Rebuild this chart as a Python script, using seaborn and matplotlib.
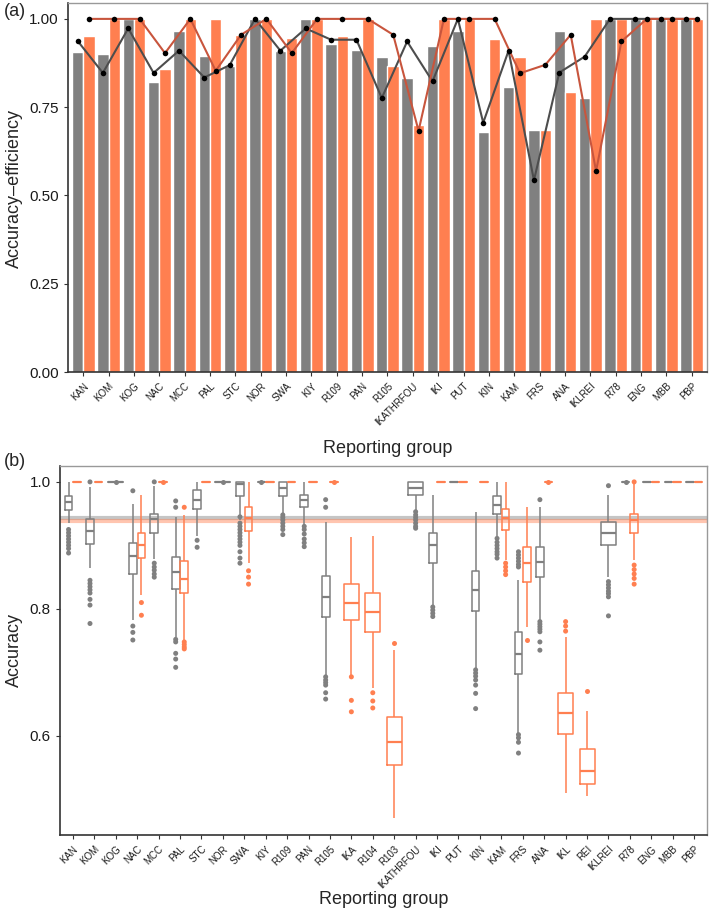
import numpy as np
import pandas as pd
import matplotlib
matplotlib.use("Agg")
import matplotlib.pyplot as plt
import seaborn as sns

GRAY = "#808080"
CORAL = "#FF7F50"
LINE_DARK = "#4D4D4D"
LINE_RED = "#C8553D"

METHODS = ["set1", "set2"]

# ---- panel (a): accuracy-efficiency bars + point lines ----
groups_a = ["KAN", "KOM", "KOG", "NAC", "MCC", "PAL", "STC", "NOR", "SWA", "KIY",
            "R109", "PAN", "R105", "IKATHRFOU", "IKI", "PUT", "KIN", "KAM", "FRS",
            "ANA", "IKLREI", "R78", "ENG", "MBB", "PBP"]
bar_set1 = [0.905, 0.900, 1.000, 0.820, 0.967, 0.895, 0.868, 1.000, 0.908, 1.000,
            0.930, 0.912, 0.891, 0.834, 0.922, 0.965, 0.681, 0.808, 0.686, 0.967,
            0.776, 1.000, 1.000, 1.000, 1.000]
bar_set2 = [0.952, 1.000, 1.000, 0.857, 1.000, 1.000, 0.953, 1.000, 0.947, 1.000,
            0.952, 1.000, 0.866, 0.699, 1.000, 1.000, 0.943, 0.891, 0.686, 0.794,
            1.000, 1.000, 1.000, 1.000, 1.000]
pt_set1 = [0.938, 0.847, 0.973, 0.847, 0.910, 0.834, 0.869, 1.000, 0.910, 0.973,
           0.941, 0.941, 0.776, 0.936, 0.823, 1.000, 0.706, 0.910, 0.543, 0.848,
           0.893, 1.000, 1.000, 1.000, 1.000]
pt_set2 = [1.000, 1.000, 1.000, 0.903, 1.000, 0.853, 0.955, 1.000, 0.903, 1.000,
           1.000, 1.000, 0.955, 0.683, 1.000, 1.000, 1.000, 0.846, 0.870, 0.955,
           0.569, 0.936, 1.000, 1.000, 1.000]

# ---- panel (b): accuracy box summaries (whisker lo, q1, median, q3, whisker hi) ----
groups_b = ["KAN", "KOM", "KOG", "NAC", "MCC", "PAL", "STC", "NOR", "SWA", "KIY",
            "R109", "PAN", "R105", "IKA", "R104", "R103", "IKATHRFOU", "IKI", "PUT",
            "KIN", "KAM", "FRS", "ANA", "IKL", "REI", "IKLREI", "R78", "ENG", "MBB", "PBP"]
box_group = ["KAN", "KAN", "KOM", "KOM", "KOG", "NAC", "NAC", "MCC", "MCC", "PAL",
             "PAL", "STC", "STC", "NOR", "SWA", "SWA", "KIY", "KIY", "R109", "R109",
             "PAN", "PAN", "R105", "R105", "IKA", "R104", "R103", "IKATHRFOU", "IKI", "IKI",
             "PUT", "PUT", "KIN", "KIN", "KAM", "KAM", "FRS", "FRS", "ANA", "ANA",
             "IKL", "REI", "IKLREI", "R78", "R78", "ENG", "ENG", "MBB", "MBB", "PBP", "PBP"]
box_method = ["set1", "set2", "set1", "set2", "set1", "set1", "set2", "set1", "set2", "set1",
              "set2", "set1", "set2", "set1", "set1", "set2", "set1", "set2", "set1", "set2",
              "set1", "set2", "set1", "set2", "set2", "set2", "set2", "set1", "set1", "set2",
              "set1", "set2", "set1", "set2", "set1", "set2", "set1", "set2", "set1", "set2",
              "set2", "set2", "set1", "set1", "set2", "set1", "set2", "set1", "set2", "set1", "set2"]
box_lo = [0.935, 1.0, 0.865, 1.0, 1.0, 0.783, 0.822, 0.878, 1.0, 0.756,
          0.751, 0.914, 1.0, 1.0, 0.940, 0.872, 1.0, 1.0, 0.951, 1.0,
          0.932, 1.0, 0.696, 1.0, 0.696, 0.675, 0.471, 0.956, 0.804, 1.0,
          1.0, 1.0, 0.707, 1.0, 0.914, 0.877, 0.604, 0.772, 0.783, 1.0,
          0.510, 0.505, 0.850, 1.0, 0.877, 1.0, 1.0, 1.0, 1.0, 1.0, 1.0]
box_q1 = [0.956, 1.0, 0.902, 1.0, 1.0, 0.855, 0.880, 0.919, 1.0, 0.831,
          0.825, 0.957, 1.0, 1.0, 0.978, 0.923, 1.0, 1.0, 0.978, 1.0,
          0.960, 1.0, 0.788, 1.0, 0.782, 0.763, 0.554, 0.980, 0.872, 1.0,
          1.0, 1.0, 0.797, 1.0, 0.950, 0.924, 0.697, 0.842, 0.851, 1.0,
          0.603, 0.525, 0.900, 1.0, 0.920, 1.0, 1.0, 1.0, 1.0, 1.0, 1.0]
box_med = [0.968, 1.0, 0.923, 1.0, 1.0, 0.884, 0.901, 0.941, 1.0, 0.858,
           0.847, 0.971, 1.0, 1.0, 0.996, 0.943, 1.0, 1.0, 0.990, 1.0,
           0.972, 1.0, 0.819, 1.0, 0.810, 0.795, 0.591, 0.990, 0.900, 1.0,
           1.0, 1.0, 0.830, 1.0, 0.964, 0.943, 0.729, 0.872, 0.874, 1.0,
           0.636, 0.545, 0.919, 1.0, 0.940, 1.0, 1.0, 1.0, 1.0, 1.0, 1.0]
box_q3 = [0.978, 1.0, 0.941, 1.0, 1.0, 0.904, 0.919, 0.950, 1.0, 0.881,
          0.876, 0.987, 1.0, 1.0, 1.0, 0.960, 1.0, 1.0, 1.0, 1.0,
          0.980, 1.0, 0.852, 1.0, 0.839, 0.825, 0.630, 1.0, 0.919, 1.0,
          1.0, 1.0, 0.860, 1.0, 0.977, 0.957, 0.763, 0.898, 0.898, 1.0,
          0.667, 0.580, 0.937, 1.0, 0.949, 1.0, 1.0, 1.0, 1.0, 1.0, 1.0]
box_hi = [1.0, 1.0, 0.992, 1.0, 1.0, 0.965, 0.980, 0.993, 1.0, 0.945,
          0.948, 1.0, 1.0, 1.0, 1.0, 1.0, 1.0, 1.0, 1.0, 1.0,
          1.0, 1.0, 0.937, 1.0, 0.913, 0.914, 0.735, 1.0, 0.980, 1.0,
          1.0, 1.0, 0.952, 1.0, 1.0, 1.0, 0.845, 0.961, 0.961, 1.0,
          0.756, 0.639, 0.980, 1.0, 1.0, 1.0, 1.0, 1.0, 1.0, 1.0, 1.0]

# outlying points per box
out_group = ["KAN", "KOM", "KOG", "NAC", "NAC", "MCC", "MCC", "PAL", "PAL", "STC",
             "NOR", "SWA", "SWA", "KIY", "R109", "PAN", "R105", "R105", "IKA", "R104",
             "R103", "IKATHRFOU", "IKI", "KIN", "KAM", "KAM", "FRS", "FRS", "ANA", "ANA",
             "IKL", "REI", "IKLREI", "R78", "R78"]
out_method = ["set1", "set1", "set1", "set1", "set2", "set1", "set2", "set1", "set2", "set1",
              "set1", "set1", "set2", "set1", "set1", "set1", "set1", "set2", "set2", "set2",
              "set2", "set1", "set1", "set1", "set1", "set2", "set1", "set2", "set1", "set2",
              "set2", "set2", "set1", "set1", "set2"]
out_values = [
    [0.925, 0.920, 0.915, 0.910, 0.905, 0.900, 0.895, 0.888],
    [1.0, 0.845, 0.840, 0.835, 0.830, 0.825, 0.815, 0.806, 0.777],
    [1.0],
    [0.986, 0.773, 0.763, 0.751],
    [0.810, 0.790],
    [1.0, 0.872, 0.866, 0.861, 0.855, 0.850],
    [1.0],
    [0.970, 0.960, 0.752, 0.748, 0.730, 0.721, 0.708],
    [0.960, 0.748, 0.744, 0.740, 0.737],
    [0.908, 0.897],
    [1.0],
    [0.945, 0.935, 0.930, 0.925, 0.920, 0.915, 0.910, 0.905, 0.900, 0.890, 0.880, 0.872],
    [0.860, 0.850, 0.839],
    [1.0],
    [0.948, 0.944, 0.940, 0.935, 0.930, 0.925, 0.917],
    [0.930, 0.925, 0.918, 0.910, 0.904, 0.898],
    [0.972, 0.960, 0.693, 0.688, 0.684, 0.680, 0.668, 0.658],
    [1.0],
    [0.693, 0.656, 0.638],
    [0.668, 0.655, 0.644],
    [0.747],
    [0.953, 0.948, 0.944, 0.940, 0.935, 0.930, 0.927],
    [0.803, 0.798, 0.793, 0.788],
    [0.704, 0.699, 0.694, 0.688, 0.680, 0.667, 0.643],
    [0.911, 0.905, 0.900, 0.895, 0.890, 0.886, 0.880],
    [0.872, 0.866, 0.860, 0.854],
    [0.890, 0.885, 0.880, 0.875, 0.870, 0.866, 0.602, 0.597, 0.590, 0.573],
    [0.751],
    [0.972, 0.780, 0.776, 0.772, 0.768, 0.764, 0.748, 0.735],
    [1.0],
    [0.780, 0.773, 0.765],
    [0.671],
    [0.994, 0.843, 0.838, 0.833, 0.828, 0.824, 0.819, 0.789],
    [1.0],
    [1.0, 0.869, 0.862, 0.855, 0.848, 0.839],
]

# overall mean accuracy reference lines
ref_set1 = 0.943
ref_set2 = 0.939


def style_axes(ax):
    for side in ("left", "bottom"):
        ax.spines[side].set_color("#333333")
        ax.spines[side].set_linewidth(1.2)
    for side in ("top", "right"):
        ax.spines[side].set_visible(True)
        ax.spines[side].set_color("#999999")
        ax.spines[side].set_linewidth(1.0)
    ax.tick_params(axis="both", length=3, width=0.8, color="#333333", labelcolor="#1a1a1a")
    ax.tick_params(axis="y", labelsize=11)
    ax.tick_params(axis="x", labelsize=7)
    for lab in ax.get_xticklabels():
        lab.set_rotation(45)
        lab.set_ha("right")
        lab.set_rotation_mode("anchor")
    ax.set_xlabel("")
    ax.set_ylabel("")


sns.set_style("ticks")
plt.rcParams["font.family"] = ["Liberation Sans", "DejaVu Sans"]

fig = plt.figure(figsize=(7.09, 9.11), dpi=100)
ax_a = fig.add_axes([68 / 709, 1 - 372 / 911, 639 / 709, 369 / 911])
ax_b = fig.add_axes([60 / 709, 1 - 835 / 911, 647 / 709, 369 / 911])
palette = {"set1": GRAY, "set2": CORAL}

# ---- panel (a) ----
n_a = len(groups_a)
df_bars = pd.DataFrame({
    "group": groups_a * 2,
    "method": ["set1"] * n_a + ["set2"] * n_a,
    "value": bar_set1 + bar_set2,
})
sns.barplot(data=df_bars, x="group", y="value", hue="method", order=groups_a,
            hue_order=METHODS, palette=palette, width=0.9, saturation=1,
            errorbar=None, legend=False, ax=ax_a)

idx = np.arange(n_a)
shift = 0.225  # half of a dodged bar width
df_pts = pd.DataFrame({
    "x": np.concatenate([idx - shift, idx + shift]),
    "value": pt_set1 + pt_set2,
    "method": ["set1"] * n_a + ["set2"] * n_a,
})
sns.lineplot(data=df_pts, x="x", y="value", hue="method", hue_order=METHODS,
             palette={"set1": LINE_DARK, "set2": LINE_RED}, linewidth=1.5,
             legend=False, ax=ax_a)
sns.scatterplot(data=df_pts, x="x", y="value", color="black", s=16,
                linewidth=0, legend=False, ax=ax_a, zorder=5)

ax_a.set_xlim(-0.6, n_a - 0.4)
ax_a.set_ylim(0, 1.045)
ax_a.set_xticks(idx)
ax_a.set_xticklabels(groups_a)
ax_a.set_yticks([0, 0.25, 0.5, 0.75, 1.0])
ax_a.set_yticklabels(["0.00", "0.25", "0.50", "0.75", "1.00"])
style_axes(ax_a)

# ---- panel (b) ----
rows = []
for g, m, lo, q1, md, q3, hi in zip(box_group, box_method, box_lo, box_q1, box_med, box_q3, box_hi):
    for v in (lo, q1, md, q3, hi):
        rows.append((g, m, v))
df_box = pd.DataFrame(rows, columns=["group", "method", "value"])
n_methods = df_box.groupby("group")["method"].nunique()
single = set(n_methods[n_methods == 1].index)

rows = []
for g, m, vals in zip(out_group, out_method, out_values):
    for v in vals:
        rows.append((g, m, v))
df_out = pd.DataFrame(rows, columns=["group", "method", "value"])

ax_b.axhline(ref_set1, color=GRAY, lw=3, alpha=0.45, zorder=0.5)
ax_b.axhline(ref_set2, color=CORAL, lw=3, alpha=0.45, zorder=0.5)

box_kw = dict(x="group", y="value", hue="method", order=groups_b, hue_order=METHODS,
              palette=palette, fill=False, whis=(0, 100), showfliers=False,
              linewidth=1.1, legend=False, ax=ax_b, capprops={"linewidth": 0},
              medianprops={"linewidth": 1.6})
sns.boxplot(data=df_box[~df_box["group"].isin(single)], dodge=True, width=0.8, gap=0.1, **box_kw)
sns.boxplot(data=df_box[df_box["group"].isin(single)], dodge=False, width=0.7, **box_kw)

strip_kw = dict(x="group", y="value", hue="method", order=groups_b, hue_order=METHODS,
                palette=palette, jitter=False, size=3.6, linewidth=0, legend=False, ax=ax_b)
sns.stripplot(data=df_out[~df_out["group"].isin(single)], dodge=True, **strip_kw)
sns.stripplot(data=df_out[df_out["group"].isin(single)], dodge=False, **strip_kw)

ax_b.set_xlim(-0.6, len(groups_b) - 0.4)
ax_b.set_ylim(0.444, 1.025)
ax_b.set_yticks([0.6, 0.8, 1.0])
ax_b.set_yticklabels(["0.6", "0.8", "1.0"])
style_axes(ax_b)

# titles and panel tags
fig.text((68 + 707) / 2 / 709, 1 - 448 / 911, "Reporting group",
         ha="center", va="center", fontsize=13)
fig.text((60 + 707) / 2 / 709, 1 - 900 / 911, "Reporting group",
         ha="center", va="center", fontsize=13)
fig.text(14 / 709, 1 - 188 / 911, "Accuracy\u2013efficiency", rotation=90,
         ha="center", va="center", fontsize=13)
fig.text(14 / 709, 1 - 650 / 911, "Accuracy", rotation=90,
         ha="center", va="center", fontsize=13)
fig.text(4 / 709, 1 - 12 / 911, "(a)", ha="left", va="center", fontsize=13)
fig.text(4 / 709, 1 - 462 / 911, "(b)", ha="left", va="center", fontsize=13)

fig.savefig("out.png", dpi=100)
